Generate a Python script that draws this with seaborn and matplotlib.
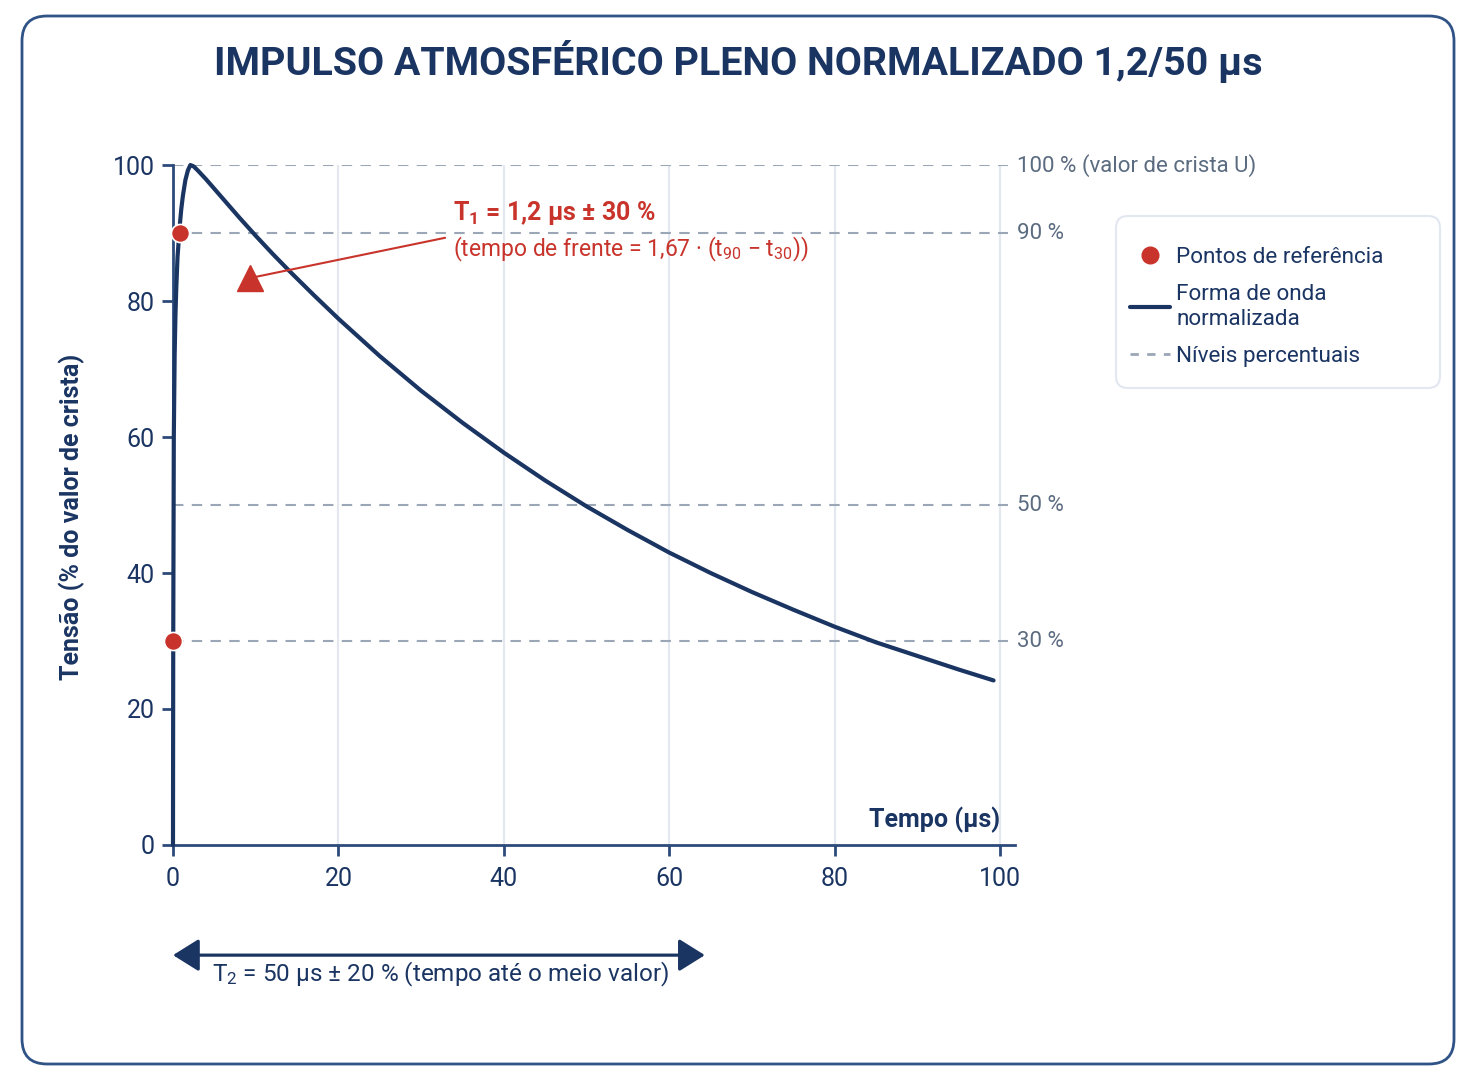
import matplotlib.pyplot as plt
import seaborn as sns
import pandas as pd
from matplotlib.patches import FancyBboxPatch
from matplotlib.lines import Line2D
from matplotlib.transforms import IdentityTransform

# waveform (time in us, voltage in % of crest)
time_us = [0, 0.03, 0.1, 0.2, 0.3, 0.4, 0.55, 0.7, 0.85, 1.0, 1.2, 1.5, 1.8, 2.1, 2.5, 3,
           4, 5, 6, 8, 10, 12, 14, 17, 20, 25, 30, 35, 40, 45, 50, 55, 60, 65, 70, 75,
           80, 85, 90, 95, 99.2]
voltage_pct = [0, 30, 60, 72, 78, 82, 86.5, 89, 91.5, 93.5, 95.5, 97.8, 99.2, 100, 99.8, 99.2,
               97.9, 96.5, 95.1, 92.3, 89.6, 87.0, 84.5, 80.9, 77.4, 71.9, 66.8, 62.1, 57.7, 53.6,
               49.8, 46.3, 43.0, 40.0, 37.2, 34.6, 32.1, 29.8, 27.8, 25.8, 24.2]
ref_time = [0.85, 0.03]
ref_pct = [90, 30]
levels = [100, 90, 50, 30]
level_labels = ["100 % (valor de crista U)", "90 %", "50 %", "30 %"]
x_ticks = [0, 20, 40, 60, 80, 100]
y_ticks = [0, 20, 40, 60, 80, 100]

NAVY = "#1b3563"
SPINE = "#2d4b7a"
RED = "#c8342b"
GREY = "#9ba6b6"
GRID = "#e2e7f0"
LABEL_GREY = "#5b6b80"

sns.set_theme(style="white")
plt.rcParams["font.family"] = ["Roboto", "DejaVu Sans"]
plt.rcParams["mathtext.fontset"] = "custom"
plt.rcParams["mathtext.rm"] = "Roboto"
plt.rcParams["mathtext.bf"] = "Roboto:bold"
plt.rcParams["mathtext.default"] = "regular"

fig = plt.figure(figsize=(14.76, 10.8), dpi=100)
ax = fig.add_axes([0.1172, 0.2176, 0.5705, 0.6296])

wave = pd.DataFrame({"t": time_us, "u": voltage_pct})
refs = pd.DataFrame({"t": ref_time, "u": ref_pct})

for x in x_ticks[1:]:
    ax.axvline(x, color=GRID, lw=1.5, zorder=0)
ax.hlines(levels, 0, 101, colors=GREY, linestyles=(0, (5, 4)), lw=1.5, zorder=1)

sns.lineplot(data=wave, x="t", y="u", color=NAVY, lw=3, ax=ax, zorder=3, legend=False)
ax.lines[-1].set_clip_on(False)
ax.lines[-1].set_solid_joinstyle("round")
sns.scatterplot(data=refs, x="t", y="u", color=RED, s=170, edgecolor="white", linewidth=1.2,
                ax=ax, zorder=5, clip_on=False, legend=False)

ax.set_xlim(0, 101.8)
ax.set_ylim(0, 100)
ax.set_xticks(x_ticks)
ax.set_yticks(y_ticks)
ax.set_xlabel("")
ax.set_ylabel("Tensão (% do valor de crista)", fontsize=18, fontweight="bold", color=NAVY)
ax.yaxis.set_label_coords(-0.105, 0.482)
sns.despine(ax=ax)
for s in ["left", "bottom"]:
    ax.spines[s].set_color(SPINE)
    ax.spines[s].set_linewidth(2)
ax.tick_params(bottom=True, left=True, direction="out", length=8, width=2, color=SPINE,
               labelsize=18, labelcolor=NAVY)
ax.tick_params(axis="x", pad=8)
ax.tick_params(axis="y", pad=5)

for lv, lab in zip(levels, level_labels):
    ax.text(102.0, lv, lab, fontsize=16, color=LABEL_GREY, va="center", ha="left")

ax.text(100, 3.7, "Tempo (µs)", fontsize=18, fontweight="bold", color=NAVY, ha="right", va="center")

# T1 annotation
ax.text(33.9, 92.9, r"T$_{\mathbf{1}}$ = 1,2 µs ± 30 %", fontsize=18, fontweight="bold", color=RED,
        va="center")
ax.text(33.9, 87.6, r"(tempo de frente = 1,67 · (t$_{90}$ − t$_{30}$))", fontsize=16.5, color=RED,
        va="center")
ax.plot([32.9, 9.8], [89.3, 83.5], color=RED, lw=1.5, zorder=4)
ax.plot([9.3], [83.4], marker="^", ms=19, color=RED, zorder=4)

# T2 double arrow
ax.annotate("", xy=(0, -16.2), xytext=(64.3, -16.2), xycoords="data", annotation_clip=False,
            arrowprops=dict(arrowstyle="<|-|>,head_length=0.8,head_width=0.5", color=NAVY,
                            lw=2.3, shrinkA=0, shrinkB=0, mutation_scale=20))
ax.text(32.3, -19.1, r"T$_2$ = 50 µs ± 20 % (tempo até o meio valor)", fontsize=17.5, color=NAVY,
        ha="center", va="center", clip_on=False)

fig.text(0.5, 1 - 62 / 1080, "IMPULSO ATMOSFÉRICO PLENO NORMALIZADO 1,2/50 µs", fontsize=28.4,
         fontweight="bold", color=NAVY, ha="center", va="center")

# legend box
fig.add_artist(FancyBboxPatch((1116, 1080 - 388), 324, 172, boxstyle="round,pad=0,rounding_size=12",
                              transform=IdentityTransform(), facecolor="white", edgecolor=GRID, lw=1.5))
handles = [
    Line2D([], [], marker="o", ls="", color=RED, ms=12),
    Line2D([], [], color=NAVY, lw=3),
    Line2D([], [], color=GREY, lw=2, ls=(0, (3, 3))),
]
labels = ["Pontos de referência", "Forma de onda\nnormalizada", "Níveis percentuais"]
fig.legend(handles, labels, loc="upper left", bbox_to_anchor=(1119 / 1476, 1 - 236 / 1080),
           frameon=False, fontsize=16.2, labelcolor=NAVY, handlelength=1.75, handletextpad=0.3,
           labelspacing=0.72, borderpad=0)

# outer rounded border
fig.add_artist(FancyBboxPatch((22, 16), 1432, 1048, boxstyle="round,pad=0,rounding_size=25",
                              transform=IdentityTransform(), facecolor="none", edgecolor="#2f5287", lw=2))

fig.savefig("out.png", dpi=100)
